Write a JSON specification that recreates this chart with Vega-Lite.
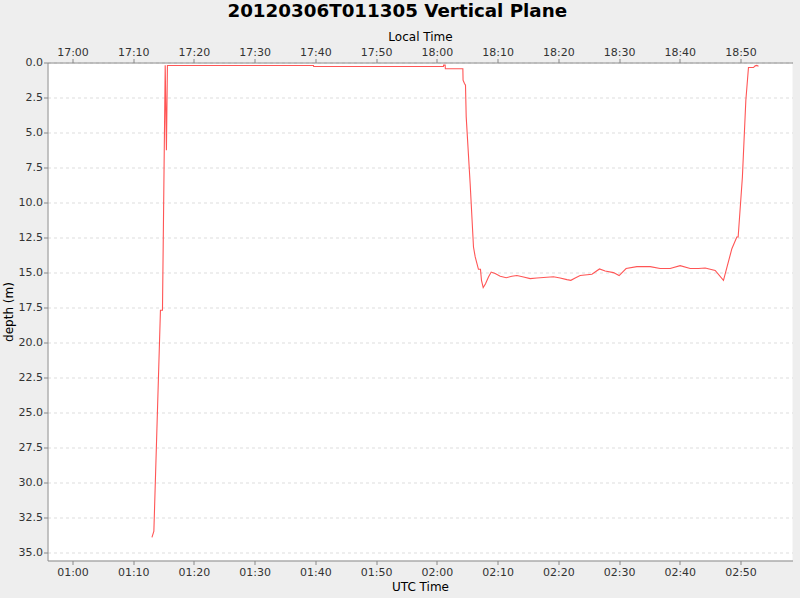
{
  "$schema": "https://vega.github.io/schema/vega-lite/v6.json",
  "width": 745,
  "height": 498,
  "padding": {"left": 1.5, "top": 1.5, "right": 8, "bottom": 5},
  "background": "#eeeeee",
  "title": {"text": "20120306T011305 Vertical Plane", "font": "DejaVu Sans", "fontSize": 18.3, "fontWeight": "bold", "color": "#000000", "offset": 9, "frame": "bounds"},
  "config": {
    "view": {"fill": "white", "stroke": null},
    "axis": {
      "domainColor": "#888888",
      "tickColor": "#888888",
      "tickSize": 4,
      "labelFont": "DejaVu Sans",
      "labelFontSize": 11,
      "labelColor": "#333333",
      "titleFont": "DejaVu Sans",
      "titleFontSize": 12,
      "titleFontWeight": "normal",
      "titleColor": "#000000",
      "grid": false
    }
  },
  "data": {"values": [
    {"time": "2012-03-06T01:13:05Z", "depth": 33.9},
    {"time": "2012-03-06T01:13:24Z", "depth": 33.46},
    {"time": "2012-03-06T01:14:29Z", "depth": 17.69},
    {"time": "2012-03-06T01:14:49Z", "depth": 17.69},
    {"time": "2012-03-06T01:15:16Z", "depth": 0.19},
    {"time": "2012-03-06T01:15:28Z", "depth": 6.26},
    {"time": "2012-03-06T01:15:38Z", "depth": 0.21},
    {"time": "2012-03-06T01:39:41Z", "depth": 0.21},
    {"time": "2012-03-06T01:39:43Z", "depth": 0.29},
    {"time": "2012-03-06T02:01:05Z", "depth": 0.29},
    {"time": "2012-03-06T02:01:07Z", "depth": 0.19},
    {"time": "2012-03-06T02:01:22Z", "depth": 0.19},
    {"time": "2012-03-06T02:01:24Z", "depth": 0.45},
    {"time": "2012-03-06T02:04:17Z", "depth": 0.45},
    {"time": "2012-03-06T02:04:19Z", "depth": 1.26},
    {"time": "2012-03-06T02:04:33Z", "depth": 1.5},
    {"time": "2012-03-06T02:04:43Z", "depth": 1.62},
    {"time": "2012-03-06T02:04:50Z", "depth": 3.88},
    {"time": "2012-03-06T02:05:29Z", "depth": 8.64},
    {"time": "2012-03-06T02:06:02Z", "depth": 13.17},
    {"time": "2012-03-06T02:06:19Z", "depth": 13.88},
    {"time": "2012-03-06T02:06:51Z", "depth": 14.76},
    {"time": "2012-03-06T02:07:11Z", "depth": 14.76},
    {"time": "2012-03-06T02:07:21Z", "depth": 15.55},
    {"time": "2012-03-06T02:07:38Z", "depth": 16.07},
    {"time": "2012-03-06T02:08:01Z", "depth": 15.79},
    {"time": "2012-03-06T02:08:30Z", "depth": 15.31},
    {"time": "2012-03-06T02:08:57Z", "depth": 14.96},
    {"time": "2012-03-06T02:09:36Z", "depth": 15.07},
    {"time": "2012-03-06T02:10:26Z", "depth": 15.26},
    {"time": "2012-03-06T02:11:25Z", "depth": 15.36},
    {"time": "2012-03-06T02:12:21Z", "depth": 15.26},
    {"time": "2012-03-06T02:13:11Z", "depth": 15.21},
    {"time": "2012-03-06T02:14:16Z", "depth": 15.31},
    {"time": "2012-03-06T02:15:22Z", "depth": 15.43},
    {"time": "2012-03-06T02:16:28Z", "depth": 15.38},
    {"time": "2012-03-06T02:19:12Z", "depth": 15.29},
    {"time": "2012-03-06T02:20:18Z", "depth": 15.38},
    {"time": "2012-03-06T02:21:25Z", "depth": 15.5},
    {"time": "2012-03-06T02:22:04Z", "depth": 15.55},
    {"time": "2012-03-06T02:22:47Z", "depth": 15.38},
    {"time": "2012-03-06T02:23:36Z", "depth": 15.21},
    {"time": "2012-03-06T02:25:32Z", "depth": 15.12},
    {"time": "2012-03-06T02:26:47Z", "depth": 14.74},
    {"time": "2012-03-06T02:27:43Z", "depth": 14.89},
    {"time": "2012-03-06T02:29:05Z", "depth": 15.0},
    {"time": "2012-03-06T02:30:01Z", "depth": 15.21},
    {"time": "2012-03-06T02:31:10Z", "depth": 14.71},
    {"time": "2012-03-06T02:32:56Z", "depth": 14.57},
    {"time": "2012-03-06T02:35:08Z", "depth": 14.57},
    {"time": "2012-03-06T02:36:46Z", "depth": 14.71},
    {"time": "2012-03-06T02:38:25Z", "depth": 14.71},
    {"time": "2012-03-06T02:40:04Z", "depth": 14.5},
    {"time": "2012-03-06T02:41:43Z", "depth": 14.71},
    {"time": "2012-03-06T02:43:05Z", "depth": 14.71},
    {"time": "2012-03-06T02:44:11Z", "depth": 14.67},
    {"time": "2012-03-06T02:45:50Z", "depth": 14.84},
    {"time": "2012-03-06T02:47:12Z", "depth": 15.55},
    {"time": "2012-03-06T02:48:35Z", "depth": 13.29},
    {"time": "2012-03-06T02:49:24Z", "depth": 12.46},
    {"time": "2012-03-06T02:49:37Z", "depth": 12.46},
    {"time": "2012-03-06T02:50:19Z", "depth": 8.17},
    {"time": "2012-03-06T02:50:53Z", "depth": 2.69},
    {"time": "2012-03-06T02:51:19Z", "depth": 0.36},
    {"time": "2012-03-06T02:52:08Z", "depth": 0.36},
    {"time": "2012-03-06T02:52:25Z", "depth": 0.24},
    {"time": "2012-03-06T02:52:42Z", "depth": 0.21},
    {"time": "2012-03-06T02:52:58Z", "depth": 0.26}
  ]},
  "layer": [
    {
      "mark": {"type": "line", "color": "#ff5555", "strokeWidth": 1.1},
      "encoding": {
        "x": {
          "field": "time", "type": "temporal",
          "scale": {"type": "utc", "domain": [
            {"year": 2012, "month": 3, "date": 6, "hours": 0, "minutes": 55, "seconds": 53, "utc": true},
            {"year": 2012, "month": 3, "date": 6, "hours": 2, "minutes": 58, "seconds": 34, "utc": true}
          ], "nice": false},
          "axis": {
            "orient": "bottom", "title": "UTC Time", "titlePadding": 4, "labelPadding": 1.5,
            "labelExpr": "utcFormat(datum.value, '%H:%M')",
            "values": [
              {"year": 2012, "month": 3, "date": 6, "hours": 1, "minutes": 0, "utc": true},
              {"year": 2012, "month": 3, "date": 6, "hours": 1, "minutes": 10, "utc": true},
              {"year": 2012, "month": 3, "date": 6, "hours": 1, "minutes": 20, "utc": true},
              {"year": 2012, "month": 3, "date": 6, "hours": 1, "minutes": 30, "utc": true},
              {"year": 2012, "month": 3, "date": 6, "hours": 1, "minutes": 40, "utc": true},
              {"year": 2012, "month": 3, "date": 6, "hours": 1, "minutes": 50, "utc": true},
              {"year": 2012, "month": 3, "date": 6, "hours": 2, "minutes": 0, "utc": true},
              {"year": 2012, "month": 3, "date": 6, "hours": 2, "minutes": 10, "utc": true},
              {"year": 2012, "month": 3, "date": 6, "hours": 2, "minutes": 20, "utc": true},
              {"year": 2012, "month": 3, "date": 6, "hours": 2, "minutes": 30, "utc": true},
              {"year": 2012, "month": 3, "date": 6, "hours": 2, "minutes": 40, "utc": true},
              {"year": 2012, "month": 3, "date": 6, "hours": 2, "minutes": 50, "utc": true}
            ]
          }
        },
        "y": {
          "field": "depth", "type": "quantitative",
          "scale": {"domain": [0, 35.55], "reverse": true, "nice": false, "zero": false},
          "axis": {
            "title": "depth (m)", "titlePadding": 3, "labelPadding": 1,
            "values": [0, 2.5, 5, 7.5, 10, 12.5, 15, 17.5, 20, 22.5, 25, 27.5, 30, 32.5, 35],
            "format": ".1f", "labelOverlap": false,
            "grid": true, "gridColor": "#d4d4d4", "gridDash": [3, 3], "gridWidth": 0.8
          }
        }
      }
    },
    {
      "mark": {"type": "line", "opacity": 0},
      "encoding": {
        "x": {
          "field": "time", "type": "temporal",
          "axis": {
            "orient": "top", "title": "Local Time", "titlePadding": 3, "labelPadding": 1.5,
            "labelExpr": "utcFormat(datum.value - 28800000, '%H:%M')",
            "values": [
              {"year": 2012, "month": 3, "date": 6, "hours": 1, "minutes": 0, "utc": true},
              {"year": 2012, "month": 3, "date": 6, "hours": 1, "minutes": 10, "utc": true},
              {"year": 2012, "month": 3, "date": 6, "hours": 1, "minutes": 20, "utc": true},
              {"year": 2012, "month": 3, "date": 6, "hours": 1, "minutes": 30, "utc": true},
              {"year": 2012, "month": 3, "date": 6, "hours": 1, "minutes": 40, "utc": true},
              {"year": 2012, "month": 3, "date": 6, "hours": 1, "minutes": 50, "utc": true},
              {"year": 2012, "month": 3, "date": 6, "hours": 2, "minutes": 0, "utc": true},
              {"year": 2012, "month": 3, "date": 6, "hours": 2, "minutes": 10, "utc": true},
              {"year": 2012, "month": 3, "date": 6, "hours": 2, "minutes": 20, "utc": true},
              {"year": 2012, "month": 3, "date": 6, "hours": 2, "minutes": 30, "utc": true},
              {"year": 2012, "month": 3, "date": 6, "hours": 2, "minutes": 40, "utc": true},
              {"year": 2012, "month": 3, "date": 6, "hours": 2, "minutes": 50, "utc": true}
            ]
          }
        },
        "y": {"field": "depth", "type": "quantitative", "axis": null}
      }
    }
  ],
  "resolve": {"axis": {"x": "independent", "y": "independent"}}
}
